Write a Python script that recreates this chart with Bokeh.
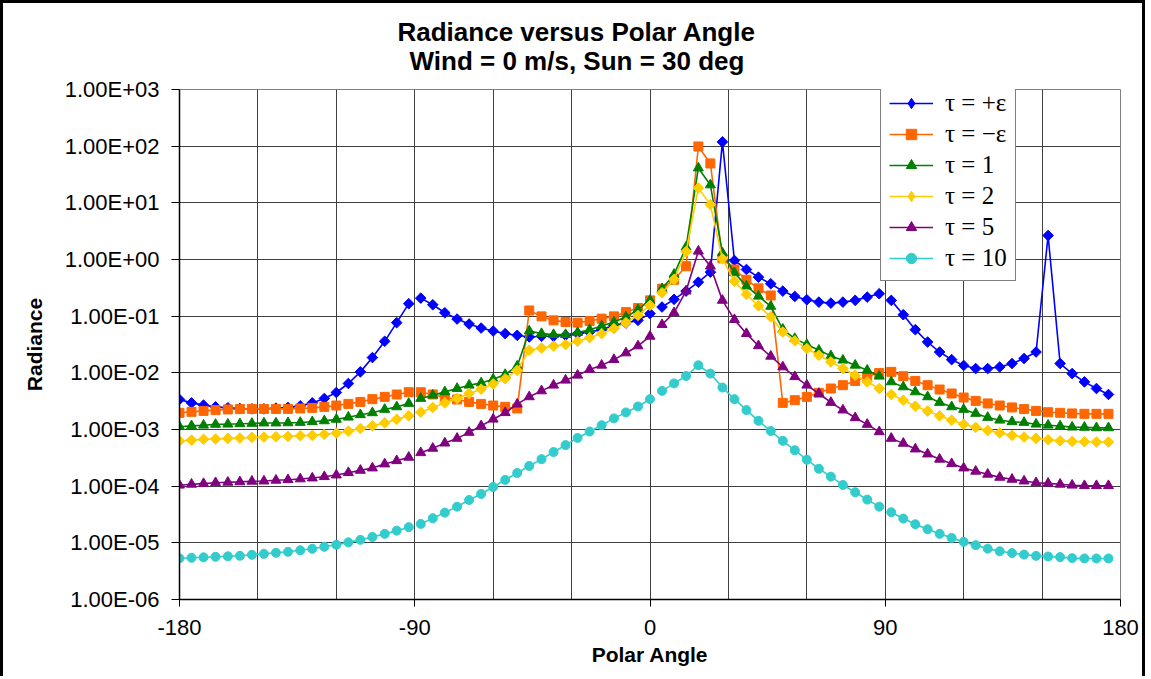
import math
from bokeh.plotting import figure
from bokeh.models import (FixedTicker, CustomJSTickFormatter, Legend, LegendItem,
                          Title, Range1d)
from bokeh.embed import file_html
from bokeh.resources import INLINE

# ---------------- data ----------------
angle = [-180.0, -175.4, -170.8, -166.2, -161.5, -156.9, -152.3, -147.7, -143.1, -138.5,
         -133.8, -129.2, -124.6, -120.0, -115.4, -110.8, -106.2, -101.5, -96.9, -92.3,
         -87.7, -83.1, -78.5, -73.8, -69.2, -64.6, -60.0, -55.4, -50.8, -46.2,
         -41.5, -36.9, -32.3, -27.7, -23.1, -18.5, -13.8, -9.2, -4.6, 0.0,
         4.6, 9.2, 13.8, 18.5, 23.1, 27.7, 32.3, 36.9, 41.5, 46.2,
         50.8, 55.4, 60.0, 64.6, 69.2, 73.8, 78.5, 83.1, 87.7, 92.3,
         96.9, 101.5, 106.2, 110.8, 115.4, 120.0, 124.6, 129.2, 133.8, 138.5,
         143.1, 147.7, 152.3, 156.9, 161.5, 166.2, 170.8, 175.4]

# the curves are broken between these point indices (quadrant boundaries)
break_after = [19, 39, 58]

tau_plus_eps = [3.39e-3, 2.95e-3, 2.69e-3, 2.51e-3, 2.41e-3, 2.35e-3, 2.31e-3, 2.31e-3, 2.38e-3, 2.45e-3,
                2.61e-3, 2.95e-3, 3.53e-3, 4.50e-3, 6.48e-3, 1.04e-2, 1.86e-2, 3.60e-2, 7.69e-2, 0.166,
                0.208, 0.159, 0.115, 0.0889, 0.0726, 0.0617, 0.0547, 0.0492, 0.0459, 0.0429,
                0.0441, 0.0441, 0.0459, 0.0492, 0.0525, 0.0578, 0.0689, 0.0756, 0.0843, 0.111,
                0.145, 0.198, 0.277, 0.398, 0.597, 119.0, 0.960, 0.667, 0.488, 0.373,
                0.277, 0.223, 0.195, 0.177, 0.170, 0.177, 0.190, 0.217, 0.249, 0.190,
                0.106, 0.0578, 0.0350, 0.0233, 0.0171, 0.0135, 0.0119, 0.0119, 0.0127, 0.0146,
                0.0179, 0.0233, 2.65, 0.0146, 9.72e-3, 6.92e-3, 5.29e-3, 4.15e-3]

tau_minus_eps = [1.97e-3, 2.05e-3, 2.13e-3, 2.20e-3, 2.26e-3, 2.29e-3, 2.31e-3, 2.31e-3, 2.31e-3, 2.31e-3,
                 2.35e-3, 2.41e-3, 2.51e-3, 2.65e-3, 2.83e-3, 3.07e-3, 3.43e-3, 3.77e-3, 4.15e-3, 4.55e-3,
                 4.55e-3, 4.15e-3, 3.67e-3, 3.39e-3, 3.07e-3, 2.83e-3, 2.65e-3, 2.51e-3, 2.35e-3, 0.126,
                 0.0991, 0.0843, 0.0787, 0.0769, 0.0820, 0.0904, 0.0991, 0.118, 0.139, 0.190,
                 0.305, 0.439, 0.762, 98.8, 49.6, 1.05, 0.667, 0.439, 0.31, 0.232,
                 2.95e-3, 3.29e-3, 3.77e-3, 4.43e-3, 5.29e-3, 6.05e-3, 7.20e-3, 8.71e-3, 9.95e-3, 1.04e-2,
                 8.71e-3, 7.20e-3, 6.05e-3, 5.08e-3, 4.32e-3, 3.67e-3, 3.20e-3, 2.88e-3, 2.65e-3, 2.45e-3,
                 2.29e-3, 2.13e-3, 2.02e-3, 1.97e-3, 1.92e-3, 1.89e-3, 1.89e-3, 1.89e-3]

tau_1 = [1.12e-3, 1.16e-3, 1.19e-3, 1.23e-3, 1.24e-3, 1.26e-3, 1.28e-3, 1.30e-3, 1.30e-3, 1.31e-3,
         1.33e-3, 1.37e-3, 1.42e-3, 1.51e-3, 1.65e-3, 1.82e-3, 1.97e-3, 2.26e-3, 2.51e-3, 2.88e-3,
         3.53e-3, 4.03e-3, 4.61e-3, 5.29e-3, 6.05e-3, 6.64e-3, 7.71e-3, 9.33e-3, 1.31e-2, 0.0547,
         0.0492, 0.0472, 0.0472, 0.0513, 0.0578, 0.0670, 0.0787, 0.0964, 0.130, 0.190,
         0.305, 0.545, 1.65, 41.2, 20.7, 1.31, 0.583, 0.339, 0.225, 0.149,
         0.0586, 0.0402, 0.0315, 0.0250, 0.0199, 0.0167, 0.0136, 0.0111, 8.71e-3, 6.92e-3,
         5.65e-3, 4.61e-3, 3.77e-3, 3.00e-3, 2.51e-3, 2.26e-3, 1.92e-3, 1.63e-3, 1.46e-3, 1.37e-3,
         1.33e-3, 1.24e-3, 1.19e-3, 1.15e-3, 1.10e-3, 1.09e-3, 1.07e-3, 1.07e-3]

tau_2 = [6.25e-4, 6.50e-4, 6.70e-4, 6.78e-4, 6.97e-4, 7.06e-4, 7.26e-4, 7.35e-4, 7.44e-4, 7.55e-4,
         7.74e-4, 7.87e-4, 8.20e-4, 8.65e-4, 9.37e-4, 1.04e-3, 1.16e-3, 1.31e-3, 1.51e-3, 1.74e-3,
         2.02e-3, 2.45e-3, 2.95e-3, 3.53e-3, 4.32e-3, 5.14e-3, 6.38e-3, 7.87e-3, 0.0111, 0.0250,
         0.0274, 0.0298, 0.0315, 0.0360, 0.0418, 0.0492, 0.0603, 0.0769, 0.103, 0.155,
         0.259, 0.445, 1.38, 18.3, 9.30, 1.03, 0.415, 0.242, 0.152, 0.0972,
         0.0525, 0.0367, 0.0268, 0.0204, 0.0156, 0.0119, 9.07e-3, 6.92e-3, 5.29e-3, 4.15e-3,
         3.29e-3, 2.58e-3, 2.11e-3, 1.74e-3, 1.46e-3, 1.24e-3, 1.09e-3, 9.64e-4, 8.65e-4, 7.87e-4,
         7.35e-4, 6.97e-4, 6.59e-4, 6.32e-4, 6.17e-4, 6.07e-4, 6.00e-4, 6.00e-4]

tau_5 = [1.04e-4, 1.08e-4, 1.11e-4, 1.15e-4, 1.17e-4, 1.19e-4, 1.22e-4, 1.23e-4, 1.27e-4, 1.30e-4,
         1.34e-4, 1.39e-4, 1.47e-4, 1.57e-4, 1.73e-4, 1.90e-4, 2.09e-4, 2.46e-4, 2.81e-4, 3.23e-4,
         3.89e-4, 4.65e-4, 5.75e-4, 6.97e-4, 8.89e-4, 1.16e-3, 1.52e-3, 1.98e-3, 2.80e-3, 3.77e-3,
         4.80e-3, 6.05e-3, 7.41e-3, 9.07e-3, 0.0114, 0.0136, 0.0171, 0.0224, 0.0298, 0.0441,
         0.0708, 0.115, 0.277, 1.40, 0.762, 0.190, 0.0868, 0.0492, 0.0300, 0.0196,
         0.0127, 8.54e-3, 6.05e-3, 4.32e-3, 3.00e-3, 2.20e-3, 1.61e-3, 1.23e-3, 9.10e-4, 6.97e-4,
         5.69e-4, 4.52e-4, 3.69e-4, 2.98e-4, 2.49e-4, 2.09e-4, 1.83e-4, 1.62e-4, 1.43e-4, 1.32e-4,
         1.23e-4, 1.15e-4, 1.12e-4, 1.08e-4, 1.04e-4, 1.02e-4, 1.02e-4, 1.02e-4]

tau_10 = [5.33e-6, 5.44e-6, 5.55e-6, 5.67e-6, 5.78e-6, 5.90e-6, 6.15e-6, 6.40e-6, 6.67e-6, 6.94e-6,
          7.38e-6, 7.84e-6, 8.50e-6, 9.22e-6, 1.02e-5, 1.13e-5, 1.27e-5, 1.44e-5, 1.64e-5, 1.89e-5,
          2.16e-5, 2.72e-5, 3.41e-5, 4.35e-5, 5.71e-5, 7.29e-5, 9.68e-5, 1.29e-4, 1.71e-4, 2.27e-4,
          3.00e-4, 4.00e-4, 5.30e-4, 7.10e-4, 9.20e-4, 1.19e-3, 1.57e-3, 2.00e-3, 2.55e-3, 3.43e-3,
          4.80e-3, 6.50e-3, 8.80e-3, 1.36e-2, 9.70e-3, 5.50e-3, 3.43e-3, 2.20e-3, 1.42e-3, 9.40e-4,
          6.30e-4, 4.30e-4, 2.93e-4, 2.03e-4, 1.47e-4, 1.05e-4, 7.80e-5, 5.80e-5, 4.35e-5, 3.47e-5,
          2.68e-5, 2.13e-5, 1.74e-5, 1.44e-5, 1.22e-5, 1.04e-5, 9.10e-6, 7.90e-6, 7.10e-6, 6.60e-6,
          6.20e-6, 5.90e-6, 5.74e-6, 5.60e-6, 5.37e-6, 5.30e-6, 5.30e-6, 5.30e-6]

series_labels = ["\u03c4 = +\u03b5", "\u03c4 = \u2212\u03b5", "\u03c4 = 1", "\u03c4 = 2", "\u03c4 = 5", "\u03c4 = 10"]
series_values = [tau_plus_eps, tau_minus_eps, tau_1, tau_2, tau_5, tau_10]
series_colors = ["#0000FF", "#FF6600", "#008000", "#FFCC00", "#800080", "#33CCCC"]
# plot markers (diamonds drawn as squares turned by 45 degrees)
series_markers = ["square", "square", "triangle", "square", "triangle", "circle"]
marker_angles = [math.pi / 4, 0.0, 0.0, math.pi / 4, 0.0, 0.0]
marker_sizes = [7.5, 9, 10, 7.5, 10, 9]
# legend markers (drawn from hidden copies of the same series)
legend_markers = ["diamond", "square", "triangle", "diamond", "triangle", "circle"]
legend_sizes = [13, 10, 11, 13, 11, 10]

title_main = "Radiance versus Polar Angle"
title_sub = "Wind = 0 m/s, Sun = 30 deg"
y_ticks = [1e-6, 1e-5, 1e-4, 1e-3, 1e-2, 1e-1, 1e0, 1e1, 1e2, 1e3]
x_ticks = [-180, -90, 0, 90, 180]
x_grid = [-180, -150, -120, -90, -60, -30, 0, 30, 60, 90, 120, 150, 180]

# ---------------- figure ----------------
p = figure(width=1145, height=676,
           x_range=Range1d(-180, 180), y_range=Range1d(1e-6, 1e3),
           y_axis_type="log", output_backend="svg", toolbar_location=None,
           min_border_left=176, min_border_right=28, min_border_top=86,
           min_border_bottom=80)
p.styles = {"border-top": "3px solid black", "border-left": "3px solid black",
            "border-right": "3px solid black"}
p.background_fill_color = "white"
p.border_fill_color = "white"
p.outline_line_color = "#808080"
p.outline_line_width = 1

FONT = "Liberation Sans"

# two title lines, centred on the whole chart (the frame is off-centre, so use offsets)
sub = Title(text=title_sub, align="left", offset=230, standoff=28,
            text_font=FONT, text_font_size="26px", text_font_style="bold",
            text_color="black")
main = Title(text=title_main, align="left", offset=218, standoff=-34,
             text_font=FONT, text_font_size="26px", text_font_style="bold",
             text_color="black")
p.add_layout(sub, "above")
p.add_layout(main, "above")

# axes
p.yaxis.ticker = FixedTicker(ticks=y_ticks)
p.yaxis.formatter = CustomJSTickFormatter(code="""
const e = Math.round(Math.log10(tick));
const a = Math.abs(e);
return "1.00E" + (e < 0 ? "-" : "+") + (a < 10 ? "0" : "") + a;
""")
p.xaxis.ticker = FixedTicker(ticks=x_ticks)
p.xaxis.formatter = CustomJSTickFormatter(code="return tick.toFixed(0);")
p.xgrid.ticker = FixedTicker(ticks=x_grid)

for ax in (p.xaxis, p.yaxis):
    ax.axis_line_color = "black"
    ax.axis_line_width = 1.5
    ax.major_tick_line_color = "black"
    ax.major_tick_in = 0
    ax.minor_tick_line_color = None
    ax.major_label_text_font = FONT
    ax.major_label_text_font_size = "22px"
    ax.major_label_text_color = "black"
    ax.axis_label_text_font = FONT
    ax.axis_label_text_font_size = "21px"
    ax.axis_label_text_font_style = "bold"
    ax.axis_label_text_color = "black"

p.yaxis.major_tick_out = 8
p.yaxis.major_label_standoff = 12
p.yaxis.axis_label = "Radiance"
p.yaxis.axis_label_standoff = 16
p.xaxis.major_tick_out = 7
p.xaxis.major_label_standoff = 13
p.xaxis.axis_label = "Polar Angle"
p.xaxis.axis_label_standoff = 5

for g in (p.xgrid, p.ygrid):
    g.grid_line_color = "#404040"
    g.grid_line_width = 1

# ---------------- series ----------------
def with_breaks(xs, ys):
    bx, by = [], []
    for i, (a, v) in enumerate(zip(xs, ys)):
        bx.append(a)
        by.append(v)
        if i in break_after:
            bx.append(float("nan"))
            by.append(float("nan"))
    return bx, by

items = []
for lab, vals, col, mk, ang, ms, lmk, lms in zip(series_labels, series_values, series_colors,
                                                 series_markers, marker_angles, marker_sizes,
                                                 legend_markers, legend_sizes):
    lx, ly = with_breaks(angle, vals)
    lr = p.line(lx, ly, line_color=col, line_width=1.6)
    p.scatter(angle, vals, marker=mk, angle=ang, size=ms, fill_color=col, line_color=col)
    # hidden copy of the series, only used to draw the legend's marker shape
    lm = p.scatter(angle, vals, marker=lmk, size=lms, fill_color=col, line_color=col,
                   visible=False)
    items.append(LegendItem(label=lab, renderers=[lr, lm]))

legend = Legend(items=items, location=(701, 318))
legend.label_text_font = "Liberation Serif"
legend.label_text_font_size = "25px"
legend.label_text_color = "black"
legend.glyph_width = 44
legend.glyph_height = 26
legend.label_height = 26
legend.label_standoff = 12
legend.spacing = 3
legend.padding = 8
legend.margin = 0
legend.border_line_color = "black"
legend.border_line_width = 1
legend.background_fill_color = "white"
legend.background_fill_alpha = 1.0
legend.inactive_fill_alpha = 0.0
p.add_layout(legend)

open("out.html", "w").write(file_html(p, INLINE))
